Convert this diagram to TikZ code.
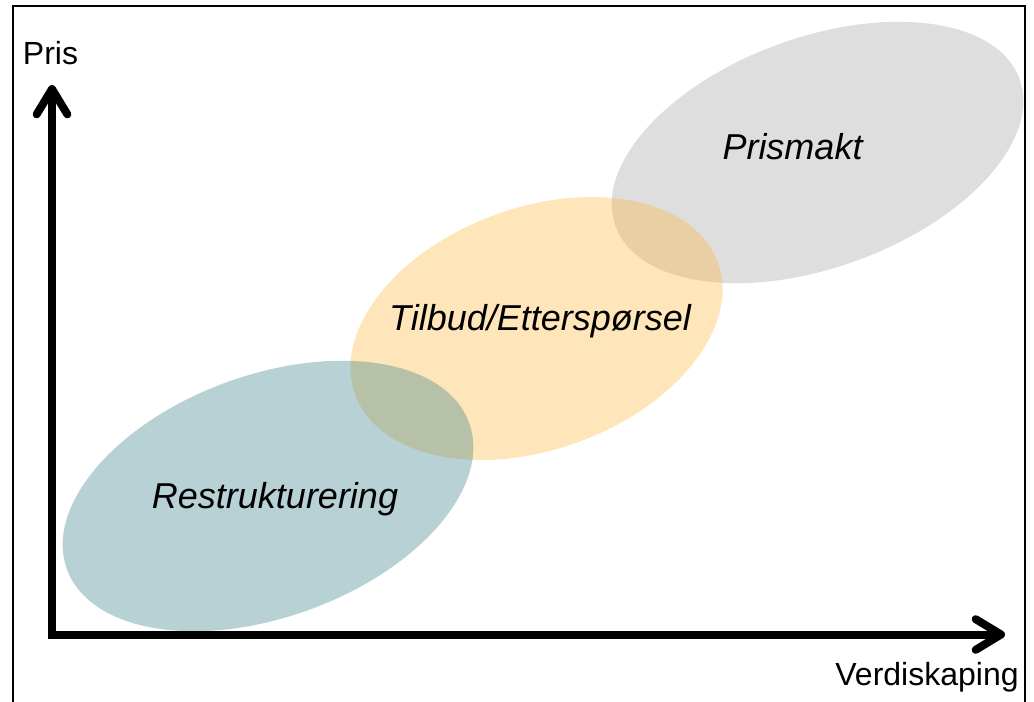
\documentclass[tikz,border=0pt]{standalone}
\usepackage{fontspec}
\setmainfont{Liberation Sans}
\usetikzlibrary{arrows.meta}

\definecolor{tealbase}{RGB}{52,124,132}
\definecolor{orangebase}{RGB}{252,184,58}
\definecolor{greybase}{RGB}{161,161,161}

\begin{document}
\begin{tikzpicture}[
  x=0.75pt,
  y=-0.75pt,
  blob/.style={fill opacity=0.35},
  area/.style={font=\fontsize{27}{32}\selectfont\itshape, anchor=base, inner sep=0pt},
  axislabel/.style={font=\fontsize{24}{29}\selectfont, anchor=base, inner sep=0pt},
  axis/.style={line width=6pt, line join=miter, {Straight Barb[length=19pt, width=23pt, round]}-{Straight Barb[length=19pt, width=23pt, round]}}
]
\useasboundingbox (0,0) rectangle (1034,702);

% Ramme
\draw[line width=1.2pt] (13,702) -- (13,6) -- (1025,6) -- (1025,702);

% Ellipsene
\fill[blob, greybase, rotate around={20:(817.5,152.5)}] (817.5,152.5) ellipse [x radius=215, y radius=115];
\fill[blob, orangebase, rotate around={20:(536.5,328.5)}] (536.5,328.5) ellipse [x radius=193, y radius=121];
\fill[blob, tealbase, rotate around={20:(268,496)}] (268,496) ellipse [x radius=214, y radius=121];

% Tekst i ellipsene
\node[area] (prismakt) at (792.5,160) {Prismakt};
\node[area] (tilbud) at (540,330) {Tilbud/Etterspørsel};
\node[area] (restr) at (275,508) {Restrukturering};

% Akser
\coordinate (origo) at (52,634.5);
\coordinate (ytopp) at (52,85);
\coordinate (xende) at (1005,634.5);
\draw[axis] (ytopp) -- (origo) -- (xende);

\node[axislabel] (pris) at (50.5,65) {Pris};
\node[axislabel] (verdi) at (927,685) {Verdiskaping};

\end{tikzpicture}
\end{document}
